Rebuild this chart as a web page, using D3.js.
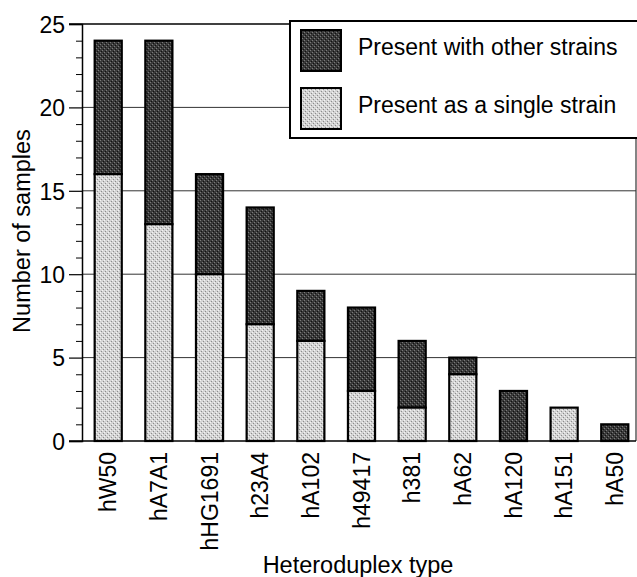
<!DOCTYPE html>
<html>
<head>
<meta charset="utf-8">
<script src="https://cdn.jsdelivr.net/npm/d3@7"></script>
<style>
  html, body { margin: 0; padding: 0; background: #fff; }
  svg { display: block; }
  text { font-family: "Liberation Sans", Arial, Helvetica, sans-serif; fill: #000; }
</style>
</head>
<body>
<svg id="chart" width="637" height="577"></svg>
<script>
const categories = ["hW50", "hA7A1", "hHG1691", "h23A4", "hA102", "h49417", "h381", "hA62", "hA120", "hA151", "hA50"];
const singleStrain = [16, 13, 10, 7, 6, 3, 2, 4, 0, 2, 0];
const withOthers   = [8, 11, 6, 7, 3, 5, 4, 1, 3, 0, 1];
const seriesNames = ["Present with other strains", "Present as a single strain"];
const yTicks = [0, 5, 10, 15, 20, 25];
const yMinorTicks = d3.range(0, 26).filter(v => v % 5 !== 0);
const xTitle = "Heteroduplex type";
const yTitle = "Number of samples";

const svg = d3.select("#chart");
const mLeft = 82, mRight = 636, mTop = 24, mBottom = 441;
const fs = 23;

// Patterns (stippled look)
const defs = svg.append("defs");
function makePattern(id, base, dot1, dot2) {
  const p = defs.append("pattern").attr("id", id).attr("patternUnits", "userSpaceOnUse")
    .attr("width", 4).attr("height", 4);
  p.append("rect").attr("width", 4).attr("height", 4).attr("fill", base);
  [[0,0],[2,2]].forEach(([px,py]) => p.append("rect").attr("x", px).attr("y", py).attr("width", 1).attr("height", 1).attr("fill", dot1));
  [[1,3],[3,1]].forEach(([px,py]) => p.append("rect").attr("x", px).attr("y", py).attr("width", 1).attr("height", 1).attr("fill", dot2));
}
makePattern("darkPat", "#3a3a3a", "#7a7a7a", "#111");
makePattern("lightPat", "#d4d4d4", "#f4f4f4", "#8c8c8c");

const x = d3.scaleBand().domain(categories).range([mLeft, 641]).paddingInner(0.465).paddingOuter(0.25);
const y = d3.scaleLinear().domain([0, 25]).range([mBottom, mTop]);

// Gridlines
svg.append("g").selectAll("line").data(yTicks.filter(v => v > 0 && v < 25)).join("line")
  .attr("x1", mLeft).attr("x2", mRight)
  .attr("y1", d => y(d)).attr("y2", d => y(d))
  .attr("stroke", "#333").attr("stroke-width", 1);

// Frame: top and right
svg.append("line").attr("x1", 69).attr("x2", mRight).attr("y1", y(25)).attr("y2", y(25)).attr("stroke", "#000").attr("stroke-width", 1.5);
svg.append("line").attr("x1", mRight).attr("x2", mRight).attr("y1", y(25)).attr("y2", mBottom).attr("stroke", "#333").attr("stroke-width", 1.2);

// Y axis
const yAxis = svg.append("g").attr("transform", `translate(${mLeft},0)`)
  .call(d3.axisLeft(y).tickValues(yTicks).tickSize(13).tickPadding(4).tickFormat(d3.format("d")));
yAxis.select(".domain").attr("stroke-width", 1.5);
yAxis.selectAll(".tick line").attr("stroke-width", 1.2);
yAxis.selectAll(".tick text").attr("font-size", fs).style("font-family", "'Liberation Sans', Arial, sans-serif").attr("dy", "0.36em");
const yMinor = svg.append("g").attr("transform", `translate(${mLeft},0)`)
  .call(d3.axisLeft(y).tickValues(yMinorTicks).tickSize(6).tickFormat(""));
yMinor.select(".domain").remove();

// Bars
const stacks = categories.map((c, i) => ({ c, s: singleStrain[i], o: withOthers[i] }));
const g = svg.append("g");
stacks.forEach(d => {
  if (d.o > 0) {
    g.append("rect")
      .attr("x", x(d.c)).attr("width", x.bandwidth())
      .attr("y", y(d.s + d.o)).attr("height", y(d.s) - y(d.s + d.o))
      .attr("fill", "url(#darkPat)").attr("stroke", "#000").attr("stroke-width", 2.2);
  }
  if (d.s > 0) {
    g.append("rect")
      .attr("x", x(d.c)).attr("width", x.bandwidth())
      .attr("y", y(d.s)).attr("height", y(0) - y(d.s))
      .attr("fill", "url(#lightPat)").attr("stroke", "#000").attr("stroke-width", 2.2);
  }
});

// X axis
const xAxis = svg.append("g").attr("transform", `translate(0,${mBottom})`)
  .call(d3.axisBottom(x).tickSize(0).tickPadding(10));
xAxis.select(".domain").attr("d", `M69,0H${mRight}`).attr("stroke-width", 1.5);
xAxis.selectAll(".tick text")
  .attr("font-size", fs).style("font-family", "'Liberation Sans', Arial, sans-serif")
  .attr("transform", "rotate(-90)")
  .attr("text-anchor", "end")
  .attr("x", -11).attr("y", 0).attr("dy", "0.36em");

// Axis titles
svg.append("text").attr("x", 358).attr("y", 573).attr("text-anchor", "middle").attr("font-size", 23.5).text(xTitle);
svg.append("text").attr("transform", `translate(30,231) rotate(-90)`).attr("text-anchor", "middle").attr("font-size", 23.5).text(yTitle);

// Legend
const lg = svg.append("g");
lg.append("rect").attr("x", 290).attr("y", 21).attr("width", 360).attr("height", 117)
  .attr("fill", "#fff").attr("stroke", "#000").attr("stroke-width", 2);
const legendFills = ["url(#darkPat)", "url(#lightPat)"];
seriesNames.forEach((name, i) => {
  lg.append("rect").attr("x", 301).attr("y", 30 + i * 58).attr("width", 40).attr("height", 41)
    .attr("fill", legendFills[i]).attr("stroke", "#000").attr("stroke-width", 2);
  lg.append("text").attr("x", 358).attr("y", 55 + i * 58).attr("font-size", fs).text(name);
});
</script>
</body>
</html>
